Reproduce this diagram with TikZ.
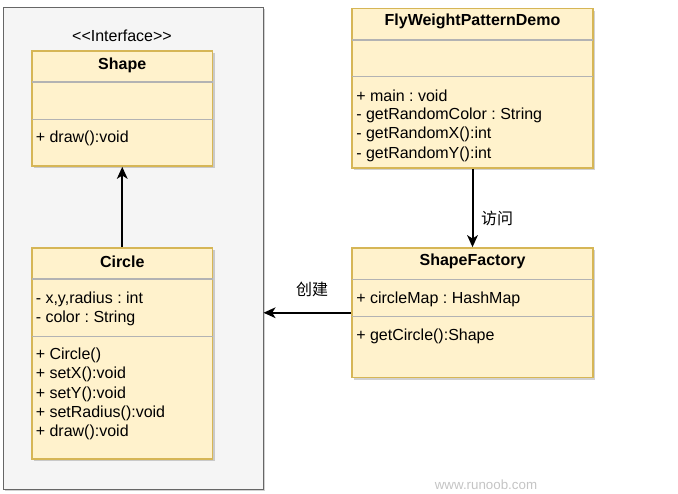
\documentclass[tikz,border=0pt]{standalone}
\usepackage{fontspec}
\setmainfont{Liberation Sans}
\newfontfamily\cjk{Noto Sans CJK SC}
\usetikzlibrary{arrows.meta,fit,shadows}
\frenchspacing
\definecolor{boxfill}{HTML}{FFF2CC}
\definecolor{boxline}{HTML}{D6B656}
\definecolor{contfill}{HTML}{F5F5F5}
\definecolor{contline}{HTML}{666666}
\definecolor{sepline}{HTML}{B3B3B3}
\definecolor{marktext}{HTML}{C4C4C4}
\tikzset{
  classbox/.style={draw=boxline, fill=boxfill, line width=1.2pt, inner sep=0pt,
    drop shadow={shadow xshift=1.8pt, shadow yshift=-1.8pt, opacity=0.3, fill=black!60}},
  contbox/.style={draw=contline, fill=contfill, line width=0.75pt, inner sep=0pt,
    drop shadow={shadow xshift=1.8pt, shadow yshift=-1.8pt, opacity=0.3, fill=black!60}},
  sep/.style={draw=sepline, line width=0.8pt},
  title/.style={font=\fontsize{12}{14}\selectfont\bfseries, inner sep=0pt},
  member/.style={font=\fontsize{12}{14}\selectfont, anchor=west, inner sep=0pt},
  lbl/.style={font=\fontsize{12}{14}\selectfont\cjk, inner sep=0pt},
  conn/.style={line width=1.5pt, -{Stealth[length=9pt, width=8pt, inset=2.5pt]}},
}
\begin{document}
\begin{tikzpicture}[x=0.75pt, y=-0.75pt]
\useasboundingbox (0,0) rectangle (678,493);

% container
\node[contbox, fit={(3,7) (263,489)}] (cont) {};
\node[font=\fontsize{12}{14}\selectfont, inner sep=0pt] (iface) at (122,36) {<\kern0pt<Interface>\kern0pt>};

% Shape
\node[classbox, fit={(32,51) (212.5,166)}] (shape) {};
\draw[sep] (32,82) -- (212.5,82);
\draw[sep] (32,119.5) -- (212.5,119.5);
\node[title] (shapet) at (122.25,65) {Shape};
\node[member] (shapem1) at (35.5,138) {+ draw():void};

% Circle
\node[classbox, fit={(32,248) (212.5,459)}] (circle) {};
\draw[sep] (32,279) -- (212.5,279);
\draw[sep] (32,336.5) -- (212.5,336.5);
\node[title] (circlet) at (122.25,261.7) {Circle};
\node[member] (circlea1) at (35.5,299) {- x,y,radius : int};
\node[member] (circlea2) at (35.5,318) {- color : String};
\node[member] (circlem1) at (35.5,355.7) {+ Circle()};
\node[member] (circlem2) at (35.5,374.8) {+ setX():void};
\node[member] (circlem3) at (35.5,393.9) {+ setY():void};
\node[member] (circlem4) at (35.5,413) {+ setRadius():void};
\node[member] (circlem5) at (35.5,432.1) {+ draw():void};

% FlyWeightPatternDemo
\node[classbox, fit={(352,8.5) (593,168)}] (demo) {};
\draw[sep] (352,40) -- (593,40);
\draw[sep] (352,76.5) -- (593,76.5);
\node[title] (demot) at (472.5,21.7) {FlyWeightPatternDemo};
\node[member] (demom1) at (356,95.9) {+ main : void};
\node[member] (demom2) at (356,115.3) {- getRandomColor : String};
\node[member] (demom3) at (356,134.7) {- getRandomX():int};
\node[member] (demom4) at (356,154.1) {- getRandomY():int};

% ShapeFactory
\node[classbox, fit={(352,248) (593,377.5)}] (factory) {};
\draw[sep] (352,279.3) -- (593,279.3);
\draw[sep] (352,316.7) -- (593,316.7);
\node[title] (factoryt) at (472.5,261.7) {ShapeFactory};
\node[member] (factorya1) at (356,299.3) {+ circleMap : HashMap};
\node[member] (factorym1) at (356,336) {+ getCircle():Shape};

% connectors
\draw[conn] (circle.north) -- (shape.south);
\draw[conn] (demo.south) -- (factory.north);
\draw[conn] (factory.west) -- (factory.west -| cont.east);
\node[lbl] (visit) at (497,218) {访问};
\node[lbl] (create) at (312,289) {创建};

% watermark
\node[font=\fontsize{10}{12}\selectfont, text=marktext, inner sep=0pt] (mark) at (486,485) {www.runoob.com};
\end{tikzpicture}
\end{document}
